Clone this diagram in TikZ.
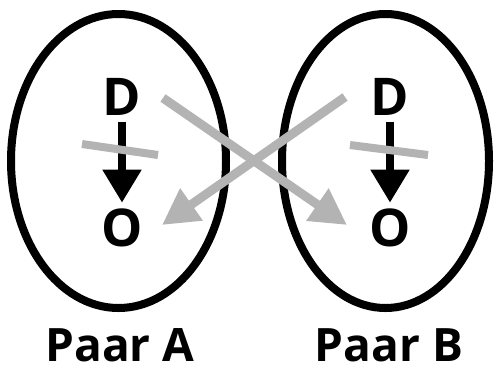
\documentclass[tikz,border=0pt]{standalone}
\usepackage{fontspec}
\setmainfont{Open Sans}
\usetikzlibrary{arrows.meta}
\definecolor{strikegray}{RGB}{179,179,179}
\tikzset{
  oval/.style={draw, line width=8pt},
  letter/.style={font=\bfseries\fontsize{52}{52}\selectfont, inner sep=0pt},
  pairlabel/.style={font=\bfseries\fontsize{46}{46}\selectfont, inner sep=0pt},
  blackarrow/.style={line width=8pt, shorten <=7pt, shorten >=6pt, -{Triangle[length=33pt,width=37pt]}},
  grayarrow/.style={strikegray, line width=9pt, -{Triangle[length=36pt,width=37pt]}},
  strikeline/.style={strikegray, line width=8pt}
}
\begin{document}
\begin{tikzpicture}[x=1pt,y=-1pt]
\useasboundingbox (0,0) rectangle (495,368);
\fill[white] (0,0) rectangle (495,368);
\draw[oval] (118.5,161) ellipse [x radius=107.5, y radius=147];
\draw[oval] (385.5,161) ellipse [x radius=103.5, y radius=147];
\node[letter] (DA) at (122,96.5) {D};
\node[letter] (OA) at (122,228) {O};
\node[letter] (DB) at (390,96.5) {D};
\node[letter] (OB) at (390,228) {O};
\draw[blackarrow] (DA) -- (OA);
\draw[blackarrow] (DB) -- (OB);
\draw[strikeline] (82,144) -- (158,155);
\draw[strikeline] (350,145) -- (428,155);
\coordinate (sA) at (163,98);
\coordinate (tB) at (347,225);
\coordinate (sB) at (345,97);
\coordinate (tA) at (162,225);
\draw[grayarrow] (sA) -- (tB);
\draw[grayarrow] (sB) -- (tA);
\node[pairlabel] (LA) at (120,345) {Paar A};
\node[pairlabel] (LB) at (389,345) {Paar B};
\end{tikzpicture}
\end{document}
